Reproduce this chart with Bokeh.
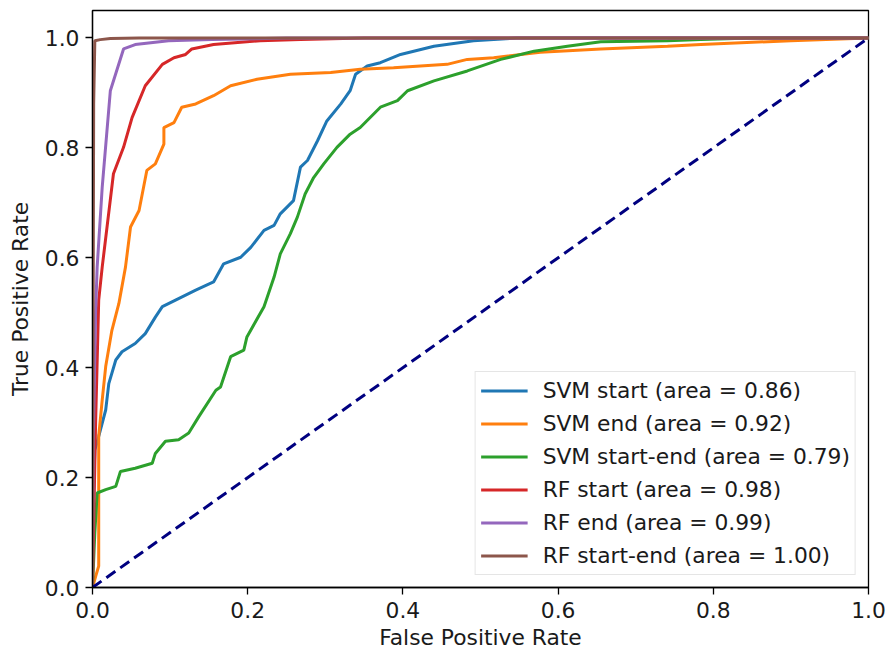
from bokeh.plotting import figure
from bokeh.models import Range1d, FixedTicker, PrintfTickFormatter, Legend, LegendItem
from bokeh.embed import file_html
from bokeh.resources import INLINE

# ---- data ----
svm_start_fpr = [0.0, 0.0, 0.003, 0.008, 0.017, 0.021, 0.030, 0.038, 0.055, 0.068, 0.081, 0.090,
                 0.107, 0.133, 0.156, 0.169, 0.191, 0.204, 0.221, 0.234, 0.242, 0.259, 0.268,
                 0.277, 0.290, 0.302, 0.320, 0.332, 0.339, 0.354, 0.371, 0.397, 0.440, 0.491,
                 0.547, 0.700, 1.0]
svm_start_tpr = [0.0, 0.10, 0.25, 0.275, 0.323, 0.371, 0.414, 0.429, 0.444, 0.462, 0.492, 0.511,
                 0.523, 0.541, 0.556, 0.589, 0.601, 0.619, 0.650, 0.659, 0.680, 0.704, 0.765,
                 0.777, 0.813, 0.849, 0.880, 0.904, 0.934, 0.949, 0.955, 0.970, 0.985, 0.995,
                 1.0, 1.0, 1.0]

svm_end_fpr = [0.0, 0.004, 0.008, 0.008, 0.0125, 0.017, 0.025, 0.034, 0.0425, 0.049, 0.060,
               0.070, 0.081, 0.092, 0.092, 0.105, 0.115, 0.133, 0.156, 0.178, 0.212, 0.255,
               0.307, 0.345, 0.388, 0.457, 0.483, 0.517, 0.577, 0.655, 0.741, 0.784, 0.900, 1.0]
svm_end_tpr = [0.0, 0.02, 0.039, 0.275, 0.341, 0.402, 0.468, 0.517, 0.583, 0.656, 0.686,
               0.759, 0.771, 0.807, 0.837, 0.846, 0.874, 0.880, 0.895, 0.913, 0.925, 0.934,
               0.937, 0.943, 0.946, 0.952, 0.961, 0.964, 0.974, 0.980, 0.985, 0.988, 0.995, 1.0]

svm_se_fpr = [0.0, 0.003, 0.006, 0.017, 0.030, 0.036, 0.055, 0.077, 0.081, 0.094, 0.111, 0.124,
              0.137, 0.159, 0.165, 0.178, 0.195, 0.199, 0.221, 0.234, 0.242, 0.255, 0.264, 0.274,
              0.285, 0.298, 0.315, 0.332, 0.345, 0.371, 0.393, 0.406, 0.440, 0.483, 0.526, 0.569,
              0.612, 0.655, 0.741, 0.784, 0.850, 1.0]
svm_se_tpr = [0.0, 0.10, 0.172, 0.178, 0.184, 0.211, 0.217, 0.226, 0.244, 0.266, 0.269, 0.281,
              0.311, 0.359, 0.365, 0.420, 0.432, 0.456, 0.511, 0.565, 0.607, 0.644, 0.674, 0.716,
              0.746, 0.771, 0.801, 0.825, 0.837, 0.874, 0.886, 0.904, 0.922, 0.940, 0.961, 0.976,
              0.985, 0.993, 0.995, 0.997, 1.0, 1.0]

rf_start_fpr = [0.0, 0.004, 0.008, 0.0125, 0.027, 0.040, 0.051, 0.068, 0.090, 0.105, 0.120,
                0.128, 0.156, 0.216, 0.268, 0.350, 1.0]
rf_start_tpr = [0.0, 0.30, 0.523, 0.583, 0.753, 0.801, 0.855, 0.913, 0.952, 0.964, 0.970,
                0.980, 0.988, 0.995, 0.997, 1.0, 1.0]

rf_end_fpr = [0.0, 0.001, 0.004, 0.006, 0.0125, 0.023, 0.040, 0.055, 0.098, 0.154, 0.250, 1.0]
rf_end_tpr = [0.0, 0.27, 0.50, 0.583, 0.728, 0.904, 0.980, 0.988, 0.995, 0.997, 1.0, 1.0]

rf_se_fpr = [0.0, 0.0015, 0.003, 0.010, 0.023, 0.060, 1.0]
rf_se_tpr = [0.0, 0.88, 0.995, 0.997, 0.999, 1.0, 1.0]

chance_fpr = [0.0, 1.0]
chance_tpr = [0.0, 1.0]

series_names = ["SVM start (area = 0.86)", "SVM end (area = 0.92)",
                "SVM start-end (area = 0.79)", "RF start (area = 0.98)",
                "RF end (area = 0.99)", "RF start-end (area = 1.00)"]
series_colors = ["#1f77b4", "#ff7f0e", "#2ca02c", "#d62728", "#9467bd", "#8c564b"]
series_x = [svm_start_fpr, svm_end_fpr, svm_se_fpr, rf_start_fpr, rf_end_fpr, rf_se_fpr]
series_y = [svm_start_tpr, svm_end_tpr, svm_se_tpr, rf_start_tpr, rf_end_tpr, rf_se_tpr]

tick_values = [0.0, 0.2, 0.4, 0.6, 0.8, 1.0]

FONT = "DejaVu Sans"
FS = "21.8px"

p = figure(width=887, height=652, output_backend="svg", toolbar_location=None,
           x_range=Range1d(0, 1), y_range=Range1d(0, 1.05),
           min_border_left=92, min_border_right=19, min_border_top=10, min_border_bottom=64)
p.background_fill_color = "white"
p.border_fill_color = "white"
p.grid.visible = False
p.outline_line_color = "black"
p.outline_line_width = 1.3

for ax in (p.xaxis[0], p.yaxis[0]):
    ax.ticker = FixedTicker(ticks=tick_values)
    ax.formatter = PrintfTickFormatter(format="%.1f")
    ax.minor_tick_line_color = None
    ax.major_tick_in = 0
    ax.major_tick_out = 7
    ax.major_tick_line_width = 1.3
    ax.axis_line_width = 1.3
    ax.major_label_text_font = FONT
    ax.major_label_text_font_size = FS
    ax.major_label_text_color = "#1a1a1a"
    ax.major_label_text_line_height = 1.0
    ax.axis_label_text_font = FONT
    ax.axis_label_text_font_size = FS
    ax.axis_label_text_font_style = "normal"
    ax.axis_label_text_color = "#1a1a1a"
    ax.axis_label_text_line_height = 1.0

p.xaxis.major_label_standoff = 7
p.yaxis.major_label_standoff = 6
p.xaxis.axis_label = "False Positive Rate"
p.yaxis.axis_label = "True Positive Rate"
p.xaxis.axis_label_standoff = 4
p.yaxis.axis_label_standoff = 9

items = []
for name, col, xs, ys in zip(series_names, series_colors, series_x, series_y):
    r = p.line(xs, ys, line_color=col, line_width=3)
    items.append(LegendItem(label=name, renderers=[r]))

p.line(chance_fpr, chance_tpr, line_color="navy", line_width=3, line_dash="11 6")

legend = Legend(items=items, location="bottom_right")
legend.label_text_font = FONT
legend.label_text_font_size = FS
legend.label_text_color = "#1a1a1a"
legend.glyph_width = 47
legend.glyph_height = 27
legend.label_height = 27
legend.spacing = 6
legend.padding = 5
legend.margin = 12
legend.label_standoff = 15
legend.border_line_color = "#cccccc"
legend.border_line_width = 1
legend.background_fill_alpha = 0.85
p.add_layout(legend, "center")

open("out.html", "w").write(file_html(p, INLINE))
